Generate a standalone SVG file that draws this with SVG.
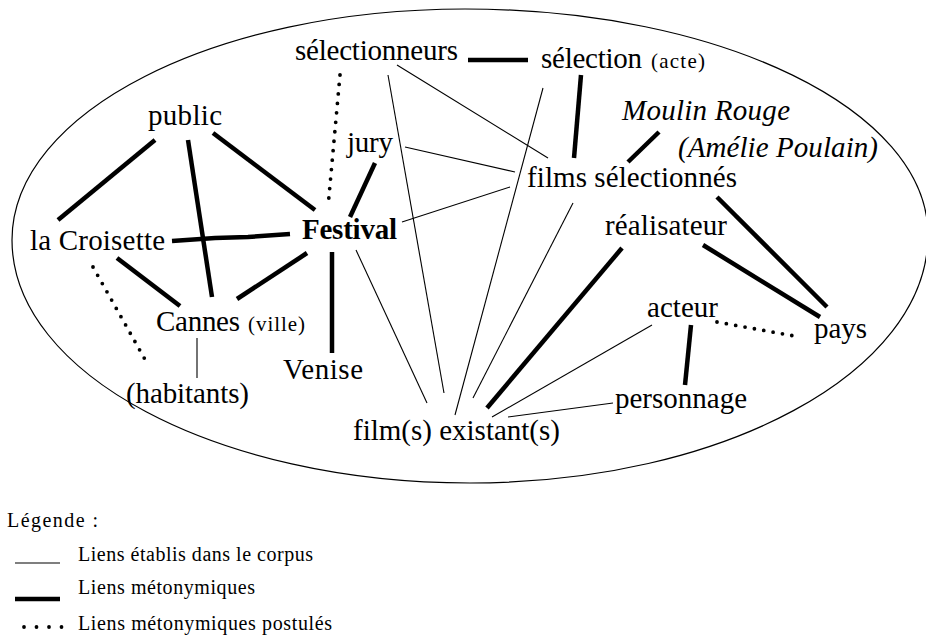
<svg xmlns="http://www.w3.org/2000/svg" width="926" height="644" viewBox="0 0 926 644">
<style>
text{font-family:"Liberation Serif","Times New Roman","DejaVu Serif",serif;fill:#000;}
.t{font-size:29px;}
.s{font-size:21px;}
.b{font-weight:bold;}
.i{font-style:italic;}
.lg{font-size:20px;}
.thin{stroke:#000;stroke-width:1.1;fill:none;}
.thick{stroke:#000;stroke-width:4.5;fill:none;stroke-linecap:butt;}
.dot{stroke:#000;stroke-width:3.8;fill:none;stroke-linecap:round;stroke-dasharray:0 9.5;}
</style>
<rect width="926" height="644" fill="#fff"/>
<path id="frame" d="M12,240 C12,112 215,9 465,9 C721,9 928,110 928,235 C928,372 723,483 470,483 C217,483 12,374 12,240 Z" fill="none" stroke="#000" stroke-width="1.2"/>
<g id="connectors">
  <line class="thick" x1="155" y1="140" x2="58" y2="220"/>
  <line class="thick" x1="188" y1="140" x2="212" y2="297"/>
  <line class="thick" x1="213" y1="133" x2="315" y2="210"/>
  <line class="thick" x1="375" y1="163" x2="350" y2="217"/>
  <polyline class="thick" points="172,241 215,238 248,237 290,234"/>
  <line class="thick" x1="117" y1="258" x2="180" y2="306"/>
  <line class="thick" x1="307" y1="253" x2="237" y2="299"/>
  <line class="thick" x1="332" y1="252" x2="332" y2="353"/>
  <line class="thick" x1="468" y1="60" x2="528" y2="60"/>
  <line class="thick" x1="581" y1="75" x2="574" y2="158"/>
  <line class="thick" x1="659" y1="132" x2="628" y2="162"/>
  <line class="thick" x1="717" y1="197" x2="827" y2="307"/>
  <line class="thick" x1="703" y1="245" x2="820" y2="317"/>
  <line class="thick" x1="622" y1="248" x2="487" y2="408"/>
  <line class="thick" x1="691" y1="325" x2="685" y2="385"/>
  <line class="thin" x1="388" y1="75" x2="444" y2="393"/>
  <line class="thin" x1="397" y1="65" x2="548" y2="158"/>
  <line class="thin" x1="405" y1="147" x2="515" y2="172"/>
  <line class="thin" x1="402" y1="222" x2="510" y2="187"/>
  <line class="thin" x1="543" y1="88" x2="455" y2="415"/>
  <line class="thin" x1="573" y1="203" x2="473" y2="398"/>
  <line class="thin" x1="356" y1="250" x2="427" y2="403"/>
  <line class="thin" x1="652" y1="325" x2="492" y2="417"/>
  <line class="thin" x1="613" y1="403" x2="508" y2="417"/>
  <line class="thin" x1="197" y1="338" x2="197" y2="378"/>
  <line class="dot" x1="340" y1="75" x2="328" y2="207"/>
  <line class="dot" x1="93" y1="267" x2="147" y2="363"/>
  <line class="dot" x1="717" y1="322" x2="800" y2="337"/>
</g>
<g id="selectionneurs"><text class="t" x="295" y="60" textLength="163" lengthAdjust="spacing">sélectionneurs</text></g>
<g id="selection"><text class="t" x="541" y="68" textLength="101" lengthAdjust="spacing">sélection</text><text class="s" x="651" y="68" textLength="54" lengthAdjust="spacing">(acte)</text></g>
<g id="public"><text class="t" x="148" y="125" textLength="74" lengthAdjust="spacing">public</text></g>
<g id="jury"><text class="t" x="347" y="152" textLength="46" lengthAdjust="spacing">jury</text></g>
<g id="moulin-rouge"><text class="t i" x="622" y="120" textLength="168" lengthAdjust="spacing">Moulin Rouge</text></g>
<g id="amelie-poulain"><text class="t i" x="678" y="157" textLength="200" lengthAdjust="spacing">(Amélie Poulain)</text></g>
<g id="films-selectionnes"><text class="t" x="527" y="187" textLength="210" lengthAdjust="spacing">films sélectionnés</text></g>
<g id="la-croisette"><text class="t" x="30" y="250" textLength="135" lengthAdjust="spacing">la Croisette</text></g>
<g id="festival"><text class="t b" x="302" y="239" textLength="95" lengthAdjust="spacing">Festival</text></g>
<g id="realisateur"><text class="t" x="605" y="235" textLength="122" lengthAdjust="spacing">réalisateur</text></g>
<g id="cannes"><text class="t" x="156" y="331" textLength="84" lengthAdjust="spacing">Cannes</text><text class="s" x="248" y="331" textLength="57" lengthAdjust="spacing">(ville)</text></g>
<g id="acteur"><text class="t" x="647" y="317" textLength="71" lengthAdjust="spacing">acteur</text></g>
<g id="pays"><text class="t" x="814" y="338" textLength="53" lengthAdjust="spacing">pays</text></g>
<g id="venise"><text class="t" x="283" y="379" textLength="80" lengthAdjust="spacing">Venise</text></g>
<g id="habitants"><text class="t" x="126" y="403" textLength="123" lengthAdjust="spacing">(habitants)</text></g>
<g id="personnage"><text class="t" x="615" y="408" textLength="132" lengthAdjust="spacing">personnage</text></g>
<g id="films-existants"><text class="t" x="353" y="440" textLength="207" lengthAdjust="spacing">film(s) existant(s)</text></g>
<g id="legend">
  <text class="lg" x="7" y="527" textLength="91" lengthAdjust="spacing">Légende :</text>
  <line x1="15" y1="563" x2="60" y2="563" stroke="#000" stroke-width="1.2"/>
  <text class="lg" x="78" y="561" textLength="235" lengthAdjust="spacing">Liens établis dans le corpus</text>
  <line x1="15" y1="599" x2="60" y2="599" stroke="#000" stroke-width="4.5"/>
  <text class="lg" x="78" y="594" textLength="177" lengthAdjust="spacing">Liens métonymiques</text>
  <g fill="#000"><circle cx="24" cy="627" r="1.9"/><circle cx="36.5" cy="627" r="1.9"/><circle cx="49" cy="627" r="1.9"/><circle cx="61.5" cy="627" r="1.9"/></g>
  <text class="lg" x="78" y="630" textLength="254" lengthAdjust="spacing">Liens métonymiques postulés</text>
</g>
</svg>
